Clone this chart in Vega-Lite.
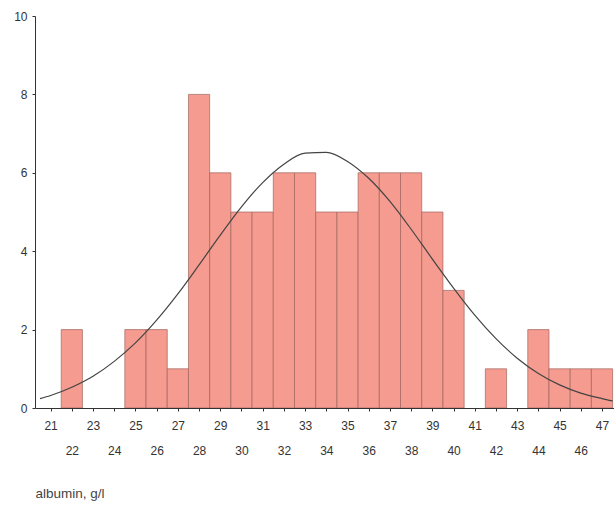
{
  "$schema": "https://vega.github.io/schema/vega-lite/v6.json",
  "autosize": "none",
  "width": 579,
  "height": 392,
  "padding": {"left": 35, "top": 16, "right": 0, "bottom": 110},
  "background": "white",
  "config": {
    "view": {"stroke": null},
    "font": "Liberation Sans",
    "axis": {"grid": false, "domainColor": "#333", "tickColor": "#333", "labelColor": "#333", "labelFont": "Liberation Sans", "labelFontSize": 12}
  },
  "datasets": {
    "bars": [
      {"albumin": 22, "lo": 21.5, "hi": 22.5, "count": 2},
      {"albumin": 25, "lo": 24.5, "hi": 25.5, "count": 2},
      {"albumin": 26, "lo": 25.5, "hi": 26.5, "count": 2},
      {"albumin": 27, "lo": 26.5, "hi": 27.5, "count": 1},
      {"albumin": 28, "lo": 27.5, "hi": 28.5, "count": 8},
      {"albumin": 29, "lo": 28.5, "hi": 29.5, "count": 6},
      {"albumin": 30, "lo": 29.5, "hi": 30.5, "count": 5},
      {"albumin": 31, "lo": 30.5, "hi": 31.5, "count": 5},
      {"albumin": 32, "lo": 31.5, "hi": 32.5, "count": 6},
      {"albumin": 33, "lo": 32.5, "hi": 33.5, "count": 6},
      {"albumin": 34, "lo": 33.5, "hi": 34.5, "count": 5},
      {"albumin": 35, "lo": 34.5, "hi": 35.5, "count": 5},
      {"albumin": 36, "lo": 35.5, "hi": 36.5, "count": 6},
      {"albumin": 37, "lo": 36.5, "hi": 37.5, "count": 6},
      {"albumin": 38, "lo": 37.5, "hi": 38.5, "count": 6},
      {"albumin": 39, "lo": 38.5, "hi": 39.5, "count": 5},
      {"albumin": 40, "lo": 39.5, "hi": 40.5, "count": 3},
      {"albumin": 42, "lo": 41.5, "hi": 42.5, "count": 1},
      {"albumin": 44, "lo": 43.5, "hi": 44.5, "count": 2},
      {"albumin": 45, "lo": 44.5, "hi": 45.5, "count": 1},
      {"albumin": 46, "lo": 45.5, "hi": 46.5, "count": 1},
      {"albumin": 47, "lo": 46.5, "hi": 47.5, "count": 1}
    ],
    "curve": [
      {"albumin": 20.5, "density": 0.24},
      {"albumin": 21, "density": 0.32},
      {"albumin": 22, "density": 0.53},
      {"albumin": 23, "density": 0.81},
      {"albumin": 24, "density": 1.19},
      {"albumin": 25, "density": 1.66},
      {"albumin": 26, "density": 2.24},
      {"albumin": 27, "density": 2.91},
      {"albumin": 28, "density": 3.65},
      {"albumin": 29, "density": 4.41},
      {"albumin": 30, "density": 5.13},
      {"albumin": 31, "density": 5.75},
      {"albumin": 32, "density": 6.22},
      {"albumin": 33, "density": 6.5},
      {"albumin": 34, "density": 6.52},
      {"albumin": 35, "density": 6.29},
      {"albumin": 36, "density": 5.86},
      {"albumin": 37, "density": 5.27},
      {"albumin": 38, "density": 4.56},
      {"albumin": 39, "density": 3.8},
      {"albumin": 40, "density": 3.06},
      {"albumin": 41, "density": 2.37},
      {"albumin": 42, "density": 1.77},
      {"albumin": 43, "density": 1.27},
      {"albumin": 44, "density": 0.88},
      {"albumin": 45, "density": 0.59},
      {"albumin": 46, "density": 0.38},
      {"albumin": 47, "density": 0.24},
      {"albumin": 47.5, "density": 0.18}
    ]
  },
  "resolve": {"axis": {"x": "independent"}},
  "layer": [
    {
      "data": {"name": "bars"},
      "mark": {"type": "bar", "orient": "vertical", "fill": "#f59b8f", "stroke": "#a0665f", "strokeWidth": 0.7, "clip": true},
      "encoding": {
        "x": {
          "field": "lo", "type": "quantitative",
          "scale": {"domain": [20.5, 47.33], "nice": false, "zero": false},
          "axis": {
            "orient": "bottom",
            "values": [21,23,25,27,29,31,33,35,37,39,41,43,45,47],
            "tickSize": 3,
            "labelPadding": 9,
            "labelFlush": false,
            "labelOverlap": false,
            "title": "albumin, g/l",
            "titleX": 0,
            "titleY": 85,
            "titleAlign": "left",
            "titleAnchor": "start",
            "titleBaseline": "middle",
            "titleFont": "Liberation Sans",
            "titleFontSize": 13.5,
            "titleFontWeight": "normal",
            "titleColor": "#444"
          }
        },
        "x2": {"field": "hi"},
        "y": {
          "field": "count", "type": "quantitative",
          "scale": {"domain": [0, 10], "nice": false},
          "axis": {"values": [0, 2, 4, 6, 8, 10], "tickSize": 3, "labelPadding": 5, "title": null, "labelFontSize": 12}
        },
        "y2": {"datum": 0}
      }
    },
    {
      "data": {"name": "curve"},
      "mark": {"type": "line", "color": "#444", "strokeWidth": 1.2, "interpolate": "monotone", "clip": true},
      "encoding": {
        "x": {
          "field": "albumin", "type": "quantitative",
          "axis": {
            "orient": "bottom",
            "values": [22,24,26,28,30,32,34,36,38,40,42,44,46],
            "tickSize": 3,
            "domain": false,
            "labelPadding": 34,
            "labelFlush": false,
            "labelOverlap": false,
            "title": null
          }
        },
        "y": {"field": "density", "type": "quantitative"}
      }
    },
    {
      "mark": {"type": "rule", "color": "#444", "strokeWidth": 1},
      "encoding": {"y": {"datum": 10}}
    }
  ]
}
